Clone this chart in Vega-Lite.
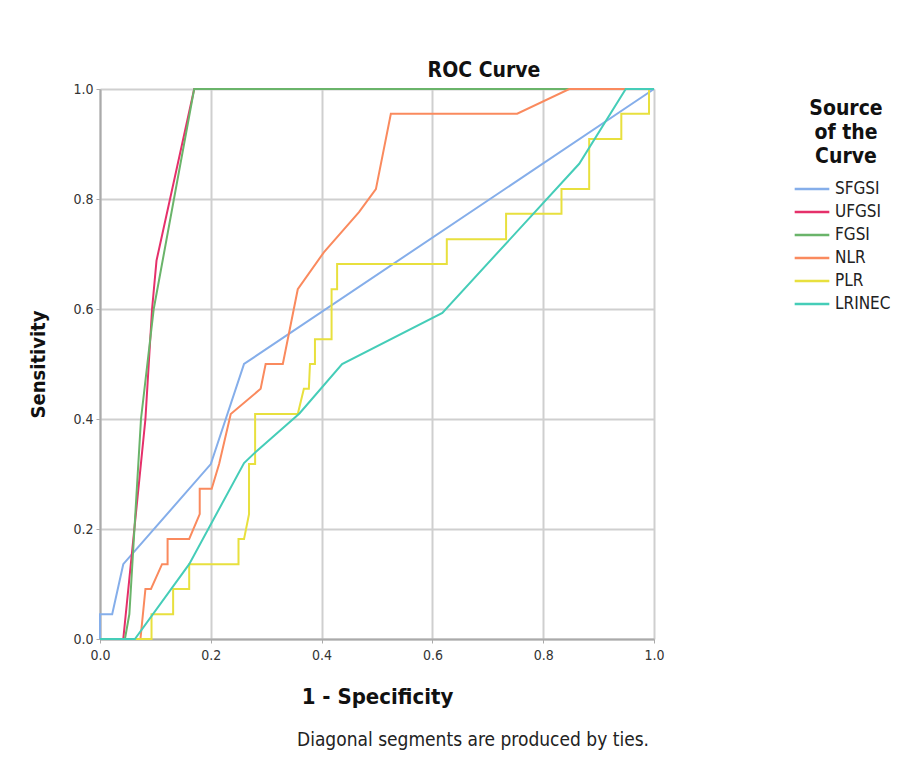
{
  "$schema": "https://vega.github.io/schema/vega-lite/v6.json",
  "autosize": {"type": "pad"},
  "padding": {"left": 28, "top": 60, "right": 5, "bottom": 5},
  "background": "white",
  "config": {
    "font": "Liberation Sans Narrow, DejaVu Sans Condensed, sans-serif",
    "view": {"stroke": null},
    "axis": {
      "gridColor": "#cfcfcf", "gridWidth": 2,
      "domainColor": "#aaaaaa", "domainWidth": 2,
      "tickColor": "#aaaaaa", "tickSize": 4,
      "labelFontSize": 14, "labelColor": "#333333", "labelFlush": false,
      "titleFontSize": 22, "titleFontWeight": "bold", "titleColor": "#111111"
    }
  },
  "title": {
    "text": "Diagonal segments are produced by ties.",
    "orient": "bottom", "anchor": "start", "dx": 268, "offset": 24,
    "fontSize": 19, "fontWeight": "normal", "color": "#222222",
    "font": "Liberation Sans Narrow, DejaVu Sans Condensed, sans-serif"
  },
  "vconcat": [
    {
      "width": 554,
      "height": 550,
      "title": {
        "text": "ROC Curve", "anchor": "middle", "dx": 107, "offset": 1,
        "fontSize": 21, "fontWeight": "bold", "color": "#111111"
      },
      "data": {
        "values": [
          {"s": "SFGSI", "i": 0, "x": 0, "y": 0},
          {"s": "SFGSI", "i": 1, "x": 0, "y": 0.045},
          {"s": "SFGSI", "i": 2, "x": 0.022, "y": 0.045},
          {"s": "SFGSI", "i": 3, "x": 0.042, "y": 0.136},
          {"s": "SFGSI", "i": 4, "x": 0.2, "y": 0.318},
          {"s": "SFGSI", "i": 5, "x": 0.26, "y": 0.5},
          {"s": "SFGSI", "i": 6, "x": 1, "y": 1},

          {"s": "UFGSI", "i": 0, "x": 0, "y": 0},
          {"s": "UFGSI", "i": 1, "x": 0.042, "y": 0},
          {"s": "UFGSI", "i": 2, "x": 0.082, "y": 0.4},
          {"s": "UFGSI", "i": 3, "x": 0.094, "y": 0.6},
          {"s": "UFGSI", "i": 4, "x": 0.102, "y": 0.688},
          {"s": "UFGSI", "i": 5, "x": 0.17, "y": 1},
          {"s": "UFGSI", "i": 6, "x": 1, "y": 1},

          {"s": "FGSI", "i": 0, "x": 0, "y": 0},
          {"s": "FGSI", "i": 1, "x": 0.045, "y": 0},
          {"s": "FGSI", "i": 2, "x": 0.053, "y": 0.045},
          {"s": "FGSI", "i": 3, "x": 0.074, "y": 0.4},
          {"s": "FGSI", "i": 4, "x": 0.097, "y": 0.6},
          {"s": "FGSI", "i": 5, "x": 0.17, "y": 1},
          {"s": "FGSI", "i": 6, "x": 1, "y": 1},

          {"s": "NLR", "i": 0, "x": 0, "y": 0},
          {"s": "NLR", "i": 1, "x": 0.073, "y": 0},
          {"s": "NLR", "i": 2, "x": 0.082, "y": 0.091},
          {"s": "NLR", "i": 3, "x": 0.092, "y": 0.091},
          {"s": "NLR", "i": 4, "x": 0.112, "y": 0.136},
          {"s": "NLR", "i": 5, "x": 0.122, "y": 0.136},
          {"s": "NLR", "i": 6, "x": 0.122, "y": 0.182},
          {"s": "NLR", "i": 7, "x": 0.161, "y": 0.182},
          {"s": "NLR", "i": 8, "x": 0.18, "y": 0.227},
          {"s": "NLR", "i": 9, "x": 0.18, "y": 0.273},
          {"s": "NLR", "i": 10, "x": 0.2016, "y": 0.273},
          {"s": "NLR", "i": 11, "x": 0.215, "y": 0.318},
          {"s": "NLR", "i": 12, "x": 0.236, "y": 0.409},
          {"s": "NLR", "i": 13, "x": 0.29, "y": 0.455},
          {"s": "NLR", "i": 14, "x": 0.299, "y": 0.5},
          {"s": "NLR", "i": 15, "x": 0.33, "y": 0.5},
          {"s": "NLR", "i": 16, "x": 0.357, "y": 0.636},
          {"s": "NLR", "i": 17, "x": 0.404, "y": 0.703},
          {"s": "NLR", "i": 18, "x": 0.4675, "y": 0.776},
          {"s": "NLR", "i": 19, "x": 0.498, "y": 0.818},
          {"s": "NLR", "i": 20, "x": 0.525, "y": 0.955},
          {"s": "NLR", "i": 21, "x": 0.753, "y": 0.955},
          {"s": "NLR", "i": 22, "x": 0.847, "y": 1},
          {"s": "NLR", "i": 23, "x": 1, "y": 1},

          {"s": "PLR", "i": 0, "x": 0, "y": 0},
          {"s": "PLR", "i": 1, "x": 0.093, "y": 0},
          {"s": "PLR", "i": 2, "x": 0.093, "y": 0.045},
          {"s": "PLR", "i": 3, "x": 0.132, "y": 0.045},
          {"s": "PLR", "i": 4, "x": 0.132, "y": 0.091},
          {"s": "PLR", "i": 5, "x": 0.161, "y": 0.091},
          {"s": "PLR", "i": 6, "x": 0.161, "y": 0.136},
          {"s": "PLR", "i": 7, "x": 0.25, "y": 0.136},
          {"s": "PLR", "i": 8, "x": 0.25, "y": 0.182},
          {"s": "PLR", "i": 9, "x": 0.26, "y": 0.182},
          {"s": "PLR", "i": 10, "x": 0.269, "y": 0.227},
          {"s": "PLR", "i": 11, "x": 0.269, "y": 0.318},
          {"s": "PLR", "i": 12, "x": 0.28, "y": 0.318},
          {"s": "PLR", "i": 13, "x": 0.28, "y": 0.409},
          {"s": "PLR", "i": 14, "x": 0.357, "y": 0.409},
          {"s": "PLR", "i": 15, "x": 0.368, "y": 0.455},
          {"s": "PLR", "i": 16, "x": 0.377, "y": 0.455},
          {"s": "PLR", "i": 17, "x": 0.379, "y": 0.5},
          {"s": "PLR", "i": 18, "x": 0.388, "y": 0.5},
          {"s": "PLR", "i": 19, "x": 0.388, "y": 0.545},
          {"s": "PLR", "i": 20, "x": 0.418, "y": 0.545},
          {"s": "PLR", "i": 21, "x": 0.418, "y": 0.636},
          {"s": "PLR", "i": 22, "x": 0.428, "y": 0.636},
          {"s": "PLR", "i": 23, "x": 0.428, "y": 0.682},
          {"s": "PLR", "i": 24, "x": 0.626, "y": 0.682},
          {"s": "PLR", "i": 25, "x": 0.626, "y": 0.727},
          {"s": "PLR", "i": 26, "x": 0.733, "y": 0.727},
          {"s": "PLR", "i": 27, "x": 0.733, "y": 0.773},
          {"s": "PLR", "i": 28, "x": 0.833, "y": 0.773},
          {"s": "PLR", "i": 29, "x": 0.833, "y": 0.818},
          {"s": "PLR", "i": 30, "x": 0.883, "y": 0.818},
          {"s": "PLR", "i": 31, "x": 0.883, "y": 0.909},
          {"s": "PLR", "i": 32, "x": 0.941, "y": 0.909},
          {"s": "PLR", "i": 33, "x": 0.941, "y": 0.955},
          {"s": "PLR", "i": 34, "x": 0.991, "y": 0.955},
          {"s": "PLR", "i": 35, "x": 0.991, "y": 1},
          {"s": "PLR", "i": 36, "x": 1, "y": 1},

          {"s": "LRINEC", "i": 0, "x": 0, "y": 0},
          {"s": "LRINEC", "i": 1, "x": 0.063, "y": 0},
          {"s": "LRINEC", "i": 2, "x": 0.161, "y": 0.136},
          {"s": "LRINEC", "i": 3, "x": 0.26, "y": 0.32},
          {"s": "LRINEC", "i": 4, "x": 0.281, "y": 0.34},
          {"s": "LRINEC", "i": 5, "x": 0.36, "y": 0.41},
          {"s": "LRINEC", "i": 6, "x": 0.437, "y": 0.5},
          {"s": "LRINEC", "i": 7, "x": 0.618, "y": 0.593},
          {"s": "LRINEC", "i": 8, "x": 0.865, "y": 0.864},
          {"s": "LRINEC", "i": 9, "x": 0.949, "y": 1},
          {"s": "LRINEC", "i": 10, "x": 1, "y": 1}
        ]
      },
      "mark": {"type": "line", "strokeWidth": 2, "interpolate": "linear"},
      "encoding": {
        "x": {
          "field": "x", "type": "quantitative",
          "scale": {"domain": [0, 1], "nice": false},
          "axis": {"values": [0, 0.2, 0.4, 0.6, 0.8, 1], "format": ".1f", "title": "1 - Specificity", "titlePadding": 24, "labelPadding": 5}
        },
        "y": {
          "field": "y", "type": "quantitative",
          "scale": {"domain": [0, 1], "nice": false},
          "axis": {"values": [0, 0.2, 0.4, 0.6, 0.8, 1], "format": ".1f", "title": "Sensitivity", "titlePadding": 24, "titleFontSize": 20, "labelPadding": 3}
        },
        "color": {
          "field": "s", "type": "nominal",
          "scale": {
            "domain": ["SFGSI", "UFGSI", "FGSI", "NLR", "PLR", "LRINEC"],
            "range": ["#85AEEA", "#E5306A", "#6AB46A", "#FA8A5E", "#E8E03E", "#45CDB8"]
          },
          "legend": {
            "title": ["Source", "of the", "Curve"],
            "orient": "none", "legendX": 702, "legendY": 9,
            "titleFontSize": 21, "titleFontWeight": "bold", "titleColor": "#111111",
            "titleAlign": "center", "titleAnchor": "middle", "titleLineHeight": 24, "titlePadding": 12,
            "labelFontSize": 17, "labelColor": "#222222", "labelOffset": 13,
            "symbolType": "M-2,0H2", "symbolSize": 300, "symbolStrokeWidth": 2.5,
            "rowPadding": 5
          }
        },
        "order": {"field": "i", "type": "quantitative"}
      }
    }
  ]
}
